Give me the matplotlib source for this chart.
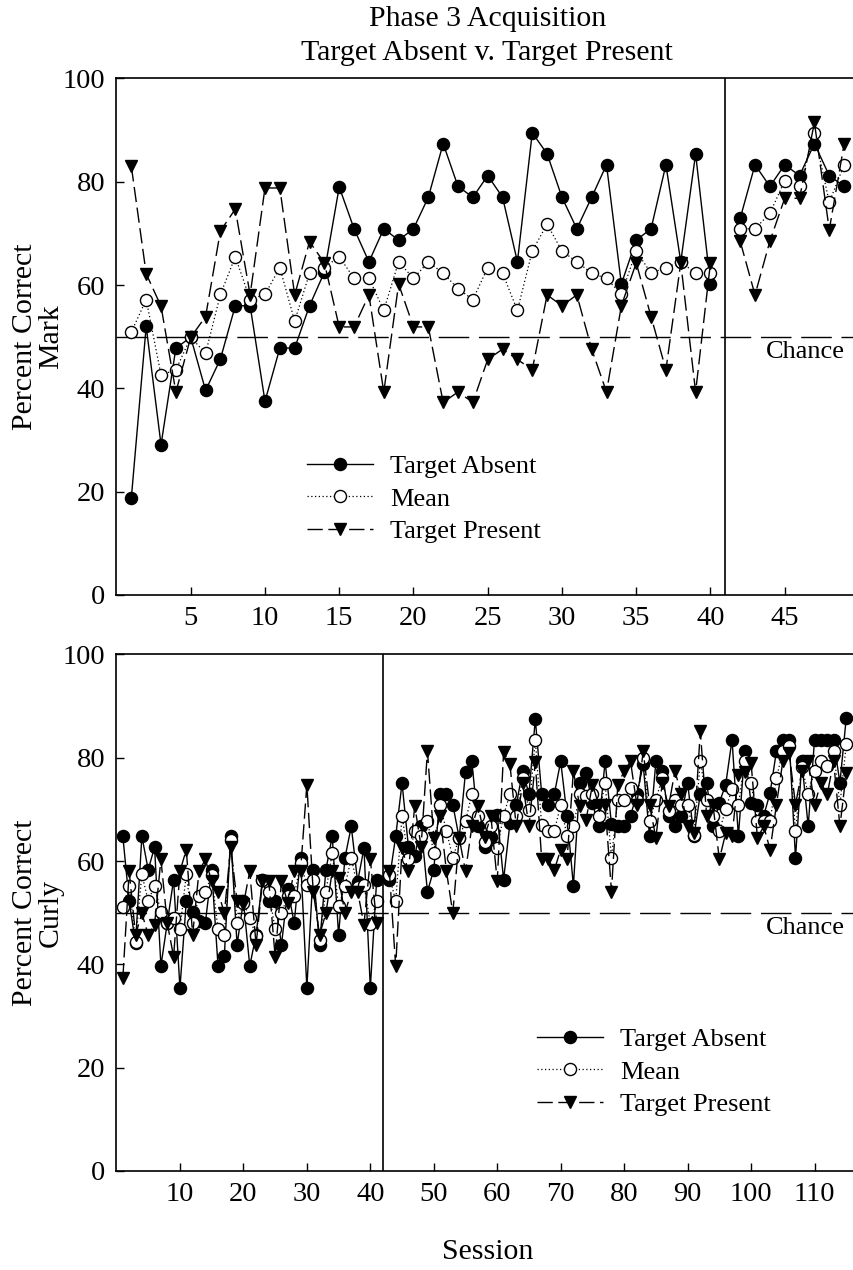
import numpy as np
import matplotlib
matplotlib.use("Agg")
import matplotlib.pyplot as plt

plt.rcParams['font.family'] = ['Liberation Serif', 'DejaVu Serif']

# ---- Mark (top panel) ----
mark_sessions = list(range(1, 41)) + list(range(42, 50))
mark_absent = [18.8, 52.0, 29.1, 47.8, 49.9, 39.6, 45.7, 56.0, 56.0, 37.5,
               47.8, 47.8, 56.0, 62.5, 79.0, 70.9, 64.5, 70.9, 68.7, 70.9,
               77.0, 87.4, 79.1, 77.0, 81.2, 77.0, 64.5, 89.5, 85.4, 77.0,
               70.9, 77.0, 83.3, 60.2, 68.7, 70.9, 83.3, 64.5, 85.4, 60.2,
               72.9, 83.3, 79.1, 83.3, 81.2, 87.4, 81.2, 79.1]
mark_mean = [50.9, 57.2, 42.6, 43.6, 49.9, 46.8, 58.2, 65.5, 57.2, 58.2,
             63.4, 53.0, 62.3, 63.4, 65.5, 61.3, 61.3, 55.1, 64.5, 61.3,
             64.5, 62.3, 59.3, 57.2, 63.4, 62.3, 55.1, 66.6, 71.8, 66.6,
             64.5, 62.3, 61.3, 58.2, 66.6, 62.3, 63.4, 64.5, 62.3, 62.3,
             70.9, 70.9, 73.9, 80.2, 79.1, 89.5, 76.0, 83.3]
mark_present = [83.0, 62.2, 55.9, 39.3, 49.9, 53.9, 70.5, 74.7, 58.1, 78.8,
                78.8, 58.1, 68.4, 64.3, 51.9, 51.9, 58.1, 39.3, 60.2, 51.9,
                51.9, 37.3, 39.3, 37.3, 45.6, 47.6, 45.6, 43.6, 58.1, 56.0,
                58.1, 47.6, 39.3, 56.0, 64.3, 53.9, 43.6, 64.3, 39.3, 64.3,
                68.5, 58.1, 68.5, 76.8, 76.8, 91.5, 70.7, 87.3]
mark_split = 41

# ---- Curly (bottom panel) ----
curly_sessions = list(range(1, 42)) + list(range(43, 116))
curly_absent = [64.8, 52.2, 44.1, 64.8, 58.3, 62.7, 39.7, 48.0, 56.4, 35.4,
                52.2, 50.2, 48.4, 48.0, 58.3, 39.7, 41.7, 64.8, 43.8, 52.2,
                39.7, 45.7, 56.4, 52.2, 52.2, 43.8, 54.5, 48.0, 60.6, 35.4,
                58.3, 43.8, 58.3, 64.8, 45.7, 60.6, 66.7, 56.0, 62.5, 35.4, 56.4,
                56.4, 64.8, 75.1, 62.8, 61.0, 66.8, 54.1, 58.3, 72.9, 72.9,
                70.9, 64.5, 77.2, 79.3, 66.8, 62.7, 64.7, 68.9, 56.4, 67.3,
                70.9, 77.4, 73.0, 87.5, 73.0, 70.9, 73.0, 79.3, 68.8, 55.2,
                75.1, 77.0, 71.2, 66.7, 79.3, 67.1, 66.7, 66.7, 68.8, 72.9,
                78.7, 64.8, 79.3, 77.4, 68.7, 66.7, 68.7, 75.1, 64.8, 73.0,
                75.1, 66.7, 71.3, 74.8, 83.5, 64.8, 81.3, 71.2, 70.9, 68.8,
                73.2, 81.3, 83.5, 83.5, 60.6, 79.3, 66.7, 83.5, 83.5, 83.5,
                83.5, 75.1, 87.7]
curly_mean = [51.1, 55.2, 44.4, 57.4, 52.3, 55.2, 50.1, 48.0, 49.0, 46.8,
              57.4, 48.0, 53.2, 54.1, 57.2, 46.8, 45.7, 64.0, 48.0, 51.9,
              49.0, 45.4, 56.3, 54.1, 46.8, 50.0, 53.2, 53.2, 59.6, 55.4,
              56.4, 44.8, 54.1, 61.6, 51.2, 55.1, 60.6, 55.0, 55.4, 47.9, 52.2,
              57.2, 52.2, 68.8, 60.4, 65.8, 64.8, 67.7, 61.6, 70.9, 65.8,
              60.6, 64.5, 67.7, 73.0, 68.7, 63.7, 66.7, 62.5, 68.8, 73.0,
              68.8, 76.1, 69.9, 83.4, 66.9, 65.8, 65.8, 70.9, 64.8, 66.7,
              73.0, 72.5, 73.0, 68.8, 75.1, 60.6, 71.9, 71.9, 74.1, 71.9,
              80.0, 67.7, 71.9, 76.1, 69.7, 71.9, 70.9, 70.9, 65.0, 79.3,
              71.9, 68.8, 65.8, 70.0, 74.0, 70.9, 79.3, 75.1, 67.7, 67.7,
              67.7, 76.1, 81.3, 82.3, 65.8, 78.3, 73.0, 77.4, 79.3, 78.4,
              81.3, 70.9, 82.6]
curly_present = [37.3, 58.0, 45.7, 49.9, 45.7, 47.7, 60.3, 48.0, 41.5, 58.0,
                 62.2, 45.7, 58.0, 60.3, 56.1, 54.1, 49.9, 62.8, 52.2, 51.6,
                 58.0, 43.8, 56.1, 56.1, 41.5, 56.1, 51.9, 58.0, 58.0, 74.8,
                 54.1, 45.7, 49.9, 58.0, 56.7, 49.9, 54.1, 54.1, 47.7, 60.3, 48.0,
                 58.0, 39.6, 62.5, 58.0, 70.7, 62.8, 81.3, 64.5, 68.7, 58.0,
                 49.9, 64.5, 58.0, 66.7, 70.6, 64.7, 68.7, 56.1, 81.1, 78.7,
                 66.7, 75.1, 66.7, 79.1, 60.3, 60.3, 58.3, 62.2, 60.3, 77.4,
                 70.6, 68.0, 74.8, 70.9, 70.9, 54.1, 74.8, 77.4, 79.3, 70.9,
                 81.3, 70.9, 64.5, 75.1, 70.6, 77.4, 73.0, 66.7, 65.4, 85.1,
                 68.8, 70.9, 60.3, 65.4, 64.8, 76.7, 77.3, 79.0, 64.5, 66.7,
                 62.2, 70.9, 79.3, 81.0, 70.9, 77.4, 79.3, 70.9, 75.1, 72.9,
                 79.3, 66.7, 77.1]
curly_split = 42

FS_TITLE = 21.5   # title and axis labels
FS_TICK = 20.5
FS_LEG = 19
MS = 8.7


def draw_panel(ax, sessions, absent, mean, present, split):
    x = np.array(sessions)
    series = [
        (absent, dict(color='black', ls='-', lw=1.0, marker='o', mfc='black',
                      mec='black', ms=MS), 'Target Absent'),
        (mean, dict(color='black', ls=(0, (1, 2)), lw=0.9, marker='o', mfc='white',
                    mec='black', mew=1.0, ms=MS), 'Mean'),
        (present, dict(color='black', ls=(0, (11, 4)), lw=1.0, marker='v',
                       mfc='black', mec='black', ms=MS + 0.5), 'Target Present'),
    ]
    handles = []
    for vals, style, label in series:
        y = np.array(vals)
        first = x < split
        h, = ax.plot(x[first], y[first], label=label, **style)
        ax.plot(x[~first], y[~first], **style)
        handles.append(h)
    ax.axhline(50, color='black', lw=1.0, ls=(0, (22, 7)), zorder=0)
    ax.axvline(split, color='black', lw=1.2)
    ax.set_ylim(0, 100)
    ax.set_yticks([0, 20, 40, 60, 80, 100])
    ax.tick_params(direction='in', length=5.5, width=1, labelsize=FS_TICK)
    ax.tick_params(axis='x', pad=8)
    ax.tick_params(axis='y', pad=8)
    for sp in ax.spines.values():
        sp.set_linewidth(1.2)
    return handles


fig = plt.figure(figsize=(8.54, 12.70), dpi=100)
ax1 = fig.add_axes([0.1364, 0.5315, 0.8694, 0.4067])
ax2 = fig.add_axes([0.1364, 0.078, 0.8694, 0.4067])

h1 = draw_panel(ax1, mark_sessions, mark_absent, mark_mean, mark_present, mark_split)
ax1.set_xlim(0, 50)
ax1.set_xticks([5, 10, 15, 20, 25, 30, 35, 40, 45])
ax1.text(49.05, 47.0, 'Chance', ha='right', va='center', fontsize=FS_LEG)
ax1.legend(handles=h1, loc='center left', bbox_to_anchor=(0.2566, 0.186),
           frameon=False, fontsize=FS_LEG, handlelength=2.5, handletextpad=0.65,
           labelspacing=0.33, borderpad=0, borderaxespad=0, numpoints=1)

h2 = draw_panel(ax2, curly_sessions, curly_absent, curly_mean, curly_present, curly_split)
ax2.set_xlim(0, 117)
ax2.set_xticks([10, 20, 30, 40, 50, 60, 70, 80, 90, 100, 110])
ax2.text(114.8, 47.0, 'Chance', ha='right', va='center', fontsize=FS_LEG)
ax2.legend(handles=h2, loc='center left', bbox_to_anchor=(0.566, 0.1917),
           frameon=False, fontsize=FS_LEG, handlelength=2.5, handletextpad=0.65,
           labelspacing=0.33, borderpad=0, borderaxespad=0, numpoints=1)

fig.text(0.5705, 1 - 19 / 1270, 'Phase 3 Acquisition', ha='center', va='center', fontsize=FS_TITLE)
fig.text(0.5705, 1 - 53 / 1270, 'Target Absent v. Target Present', ha='center', va='center',
         fontsize=FS_TITLE)
fig.text(0.0445, 0.7348, 'Percent Correct\nMark', rotation=90, ha='center', va='center',
         fontsize=FS_TITLE, linespacing=1.0)
fig.text(0.0445, 0.2813, 'Percent Correct\nCurly', rotation=90, ha='center', va='center',
         fontsize=FS_TITLE, linespacing=1.0)
fig.text(0.5714, 1 - 1252 / 1270, 'Session', ha='center', va='center', fontsize=FS_TITLE)

fig.savefig('out.png', dpi=100)
